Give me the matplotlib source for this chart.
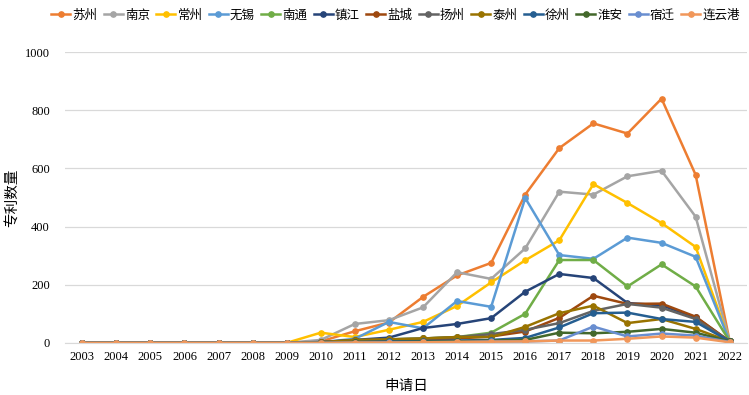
import matplotlib
matplotlib.use("Agg")
import matplotlib.pyplot as plt

plt.rcParams['font.family'] = ['Liberation Serif', 'Noto Sans CJK SC']

years = [str(y) for y in range(2003, 2023)]

suzhou    = [0,0,0,0,0,0,0,5,40,70,158,232,275,510,670,755,720,840,578,5]
nanjing   = [0,0,0,0,0,0,0,10,65,78,122,243,220,325,520,510,573,592,434,5]
changzhou = [0,0,0,0,0,0,0,35,20,45,72,127,208,284,353,546,481,412,330,5]
wuxi      = [0,0,0,0,0,0,0,2,14,72,50,144,124,498,302,289,362,344,296,5]
nantong   = [0,0,0,0,0,0,0,2,10,12,15,20,35,100,285,285,194,270,194,5]
zhenjiang = [0,0,0,0,0,0,0,3,10,18,51,65,85,176,237,223,137,129,88,5]
yancheng  = [0,0,0,0,0,0,0,2,5,8,10,15,22,39,86,162,134,135,90,5]
yangzhou  = [0,0,0,0,0,0,0,2,8,12,15,20,30,45,68,110,134,121,82,5]
taizhou   = [0,0,0,0,0,0,0,2,10,12,15,20,20,55,102,128,68,82,48,5]
xuzhou    = [0,0,0,0,0,0,0,1,3,5,6,8,10,17,53,102,104,82,72,5]
huaian    = [0,0,0,0,0,0,0,1,2,3,4,5,8,10,35,33,38,48,35,5]
suqian    = [0,0,0,0,0,0,0,0,1,2,2,3,5,5,8,56,22,32,25,3]
lianyungang = [0,0,0,0,0,0,0,0,1,1,2,3,4,5,8,8,14,22,18,2]

names = ['苏州','南京','常州','无锡','南通','镇江','盐城','扬州','泰州','徐州','淮安','宿迁','连云港']
series = [suzhou, nanjing, changzhou, wuxi, nantong, zhenjiang, yancheng, yangzhou,
          taizhou, xuzhou, huaian, suqian, lianyungang]
colors = ['#ED7D31','#A5A5A5','#FFC000','#5B9BD5','#70AD47','#264478','#9E480E',
          '#636363','#997300','#255E91','#43682B','#698ED0','#F1975A']

fig = plt.figure(figsize=(7.49, 3.95), dpi=100)
ax = fig.add_axes([0.087, 0.132, 0.910, 0.736])

x = list(range(len(years)))
for name, vals, c in zip(names, series, colors):
    ax.plot(x, vals, color=c, lw=1.8, marker='o', markersize=3.8, label=name,
            solid_joinstyle='round')

ax.set_xlim(-0.5, len(years) - 0.5)
ax.set_ylim(0, 1000)
ax.set_yticks([0, 200, 400, 600, 800, 1000])
ax.set_xticks(x)
ax.set_xticklabels(years)
ax.grid(axis='y', color='#D9D9D9', lw=0.9)
ax.set_axisbelow(True)
for s in ['top', 'right', 'left']:
    ax.spines[s].set_visible(False)
ax.spines['bottom'].set_color('#D9D9D9')
ax.tick_params(axis='both', length=0, labelsize=9, colors='#000000')
ax.tick_params(axis='x', pad=6)
ax.tick_params(axis='y', pad=11)
ax.set_ylabel('专利数量', fontsize=10.5)
ax.yaxis.set_label_coords(-0.068, 0.5)
ax.set_xlabel('申请日', fontsize=10.5, labelpad=12)

leg = fig.legend(loc='upper right', bbox_to_anchor=(0.998, 0.995), ncol=13, frameon=False,
                 fontsize=9, handlelength=1.5, handletextpad=0.2, columnspacing=0.5,
                 borderaxespad=0.2)

fig.savefig('out.png', dpi=100)
